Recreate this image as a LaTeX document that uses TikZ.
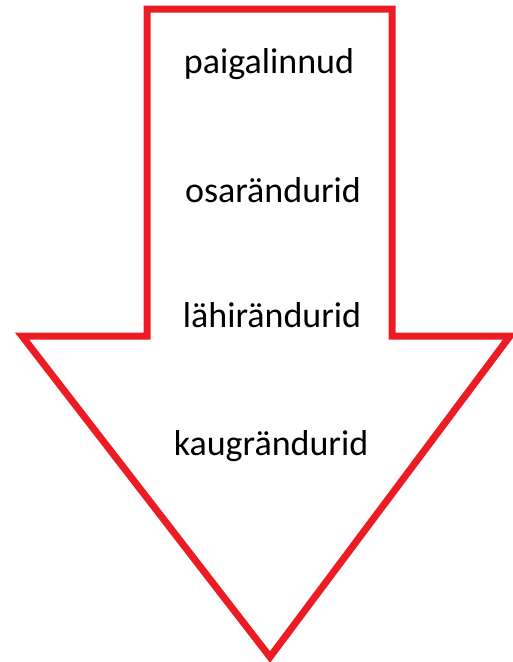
\documentclass[tikz,border=0pt]{standalone}
\usepackage{fontspec}
\setmainfont{Carlito}
\definecolor{arrowred}{RGB}{237,28,36}
\begin{document}
\begin{tikzpicture}[x=1pt,y=-1pt,
  lbl/.style={anchor=base,font=\fontsize{36}{40}\selectfont,text=black,inner sep=0pt},
  arrowline/.style={draw=arrowred,line width=7pt,line join=miter}]
\useasboundingbox (0,0) rectangle (513,662);
\coordinate (tl) at (147,9);
\coordinate (tr) at (392,9);
\coordinate (sr) at (392,336);
\coordinate (hr) at (510,336);
\coordinate (tip) at (270,657);
\coordinate (hl) at (22,336);
\coordinate (sl) at (147,336);
\draw[arrowline] (tl) -- (tr) -- (sr) -- (hr) -- (tip) -- (hl) -- (sl) -- cycle;
\node[lbl] (p) at (269,73) {paigalinnud};
\node[lbl] (o) at (273,202) {osarändurid};
\node[lbl] (l) at (272,327) {lähirändurid};
\node[lbl] (k) at (271,455) {kaugrändurid};
\end{tikzpicture}
\end{document}
